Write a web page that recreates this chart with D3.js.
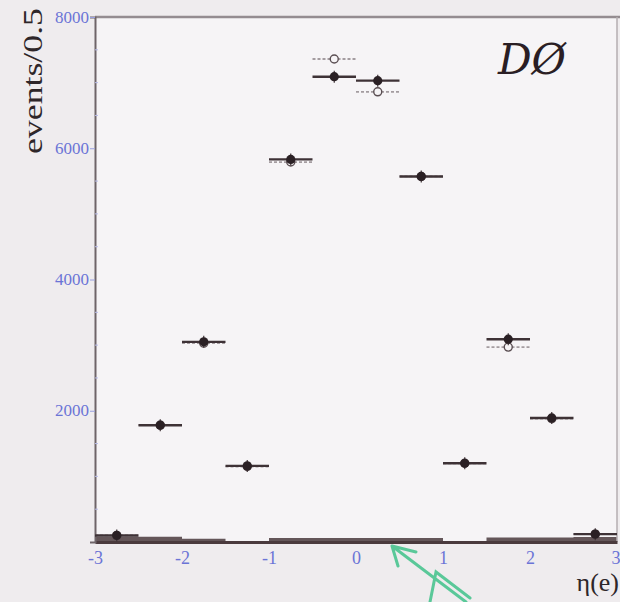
<!DOCTYPE html>
<html>
<head>
<meta charset="utf-8">
<script src="https://cdn.jsdelivr.net/npm/d3@7"></script>
<style>
  body { margin: 0; background: #efecee; }
  svg { display: block; }
</style>
</head>
<body>
<div class="canvaChart"></div>
<script>
// eta(e) bin centres, half width 0.25
var etaBins = [-2.75, -2.25, -1.75, -1.25, -0.75, -0.25, 0.25, 0.75, 1.25, 1.75, 2.25, 2.75];
var dataEvents = [100, 1780, 3050, 1160, 5830, 7090, 7030, 5570, 1200, 3090, 1890, 120];
var mcEvents = [100, 1780, 3030, 1150, 5790, 7360, 6860, 5570, 1200, 2970, 1880, 120];
var bkgEvents = [80, 80, 50, 10, 60, 60, 60, 60, 15, 70, 70, 75];
var xTicks = [-3, -2, -1, 0, 1, 2, 3];
var yTicks = [2000, 4000, 6000, 8000];

var W = 620, H = 602;
var pL = 95, pR = 617, pT = 17, pB = 542;

var svg = d3.select(".canvaChart").append("svg")
  .attr("width", W)
  .attr("height", H);

svg.append("rect").attr("width", W).attr("height", H).attr("fill", "#efecee");
svg.append("rect")
  .attr("x", pL).attr("y", pT)
  .attr("width", pR - pL).attr("height", pB - pT)
  .attr("fill", "#f6f4f6");

var x = d3.scaleLinear().domain([-3, 3]).range([pL, pR]);
var y = d3.scaleLinear().domain([0, 8000]).range([pB, pT]);

// background histogram, drawn as a step band along the bottom
var bkgArea = d3.area()
  .curve(d3.curveStepAfter)
  .x(d => x(d[0]))
  .y0(y(0))
  .y1(d => y(d[1]));
var bkgPts = etaBins.map((c, i) => [c - 0.25, bkgEvents[i]]);
bkgPts.push([3, bkgEvents[bkgEvents.length - 1]]);
svg.append("path")
  .datum(bkgPts)
  .attr("d", bkgArea)
  .attr("fill", "#4a3a3d")
  .attr("opacity", 0.85);

// frame
svg.append("line").attr("x1", pL).attr("x2", W).attr("y1", pT).attr("y2", pT)
  .attr("stroke", "#948c90").attr("stroke-width", 2.5);
svg.append("line").attr("x1", pR).attr("x2", pR).attr("y1", pT).attr("y2", pB)
  .attr("stroke", "#b4aeb1").attr("stroke-width", 1.5);

var fmt = d => String(d);

// axes
var xAxis = d3.axisBottom(x).tickValues(xTicks).tickSize(0).tickPadding(9)
  .tickFormat(fmt);
var gx = svg.append("g").attr("transform", "translate(0," + pB + ")").call(xAxis);
gx.select(".domain").attr("stroke", "#4a3a3d").attr("stroke-width", 3);
gx.selectAll("text")
  .attr("fill", "#6b74d6")
  .attr("font-family", "Liberation Serif, serif")
  .attr("font-size", 18);
// last label sits at the window edge: keep it inside
gx.selectAll(".tick").filter(d => d === 3).select("text")
  .attr("text-anchor", "end").attr("x", 3);

var yAxis = d3.axisLeft(y).tickValues(yTicks).tickSize(5).tickPadding(1)
  .tickFormat(fmt);
var gy = svg.append("g").attr("transform", "translate(" + pL + ",0)").call(yAxis);
gy.select(".domain").attr("stroke", "#6e6468").attr("stroke-width", 2);
gy.selectAll(".tick line").attr("stroke", "#9aa0e0");
gy.selectAll("text")
  .attr("fill", "#6b74d6")
  .attr("font-family", "Liberation Serif, serif")
  .attr("font-size", 16)
  .attr("textLength", 34)
  .attr("lengthAdjust", "spacingAndGlyphs");

// minor ticks
var minorY = d3.range(500, 8000, 500).filter(v => v % 2000 !== 0);
svg.selectAll(".minorY").data(minorY).enter().append("line")
  .attr("x1", pL).attr("x2", pL + 3)
  .attr("y1", d => y(d)).attr("y2", d => y(d))
  .attr("stroke", "#b8bce8");

// open points (simulation): dashed error bars, hollow markers
var mc = etaBins.map((c, i) => ({ eta: c, v: mcEvents[i] }));
svg.selectAll(".mcbar").data(mc).enter().append("line")
  .attr("x1", d => x(d.eta - 0.25)).attr("x2", d => x(d.eta + 0.25))
  .attr("y1", d => y(d.v)).attr("y2", d => y(d.v))
  .attr("stroke", "#a49ca0").attr("stroke-width", 1.8)
  .attr("stroke-dasharray", "3,2");
svg.selectAll(".mcdot").data(mc).enter().append("circle")
  .attr("cx", d => x(d.eta)).attr("cy", d => y(d.v)).attr("r", 4)
  .attr("fill", "#f6f4f6").attr("stroke", "#5a4e52").attr("stroke-width", 1.4);

// filled points (data)
var dat = etaBins.map((c, i) => ({ eta: c, v: dataEvents[i] }));
svg.selectAll(".dbar").data(dat).enter().append("line")
  .attr("x1", d => x(d.eta - 0.25)).attr("x2", d => x(d.eta + 0.25))
  .attr("y1", d => y(d.v)).attr("y2", d => y(d.v))
  .attr("stroke", "#3e3236").attr("stroke-width", 2.4);
svg.selectAll(".derr").data(dat).enter().append("line")
  .attr("x1", d => x(d.eta)).attr("x2", d => x(d.eta))
  .attr("y1", d => y(d.v) - 6).attr("y2", d => y(d.v) + 6)
  .attr("stroke", "#3e3236").attr("stroke-width", 1.2);
svg.selectAll(".ddot").data(dat).enter().append("circle")
  .attr("cx", d => x(d.eta)).attr("cy", d => y(d.v)).attr("r", 4.6)
  .attr("fill", "#2a2024");

// labels
svg.append("text")
  .attr("transform", "translate(42,8) rotate(-90)")
  .attr("text-anchor", "end")
  .attr("font-family", "Liberation Serif, serif")
  .attr("font-size", 28)
  .attr("textLength", 146)
  .attr("lengthAdjust", "spacingAndGlyphs")
  .attr("fill", "#2e2629")
  .text("events/0.5");

svg.append("text")
  .attr("x", 619).attr("y", 591)
  .attr("text-anchor", "end")
  .attr("font-family", "Liberation Serif, serif")
  .attr("font-size", 26)
  .attr("fill", "#2e2629")
  .text("η(e)");

svg.append("text")
  .attr("x", 532).attr("y", 74)
  .attr("text-anchor", "middle")
  .attr("font-family", "DejaVu Serif, serif")
  .attr("font-style", "italic")
  .attr("font-size", 42)
  .attr("fill", "#2a1e24")
  .text("DØ");

// green hand-drawn arrow
svg.append("path")
  .attr("d", "M392,546 L466,602 M392,546 L416,552 M392,546 L398,566 M430,602 L436,572 L470,598")
  .attr("fill", "none")
  .attr("stroke", "#3fc28a")
  .attr("stroke-width", 3)
  .attr("stroke-linecap", "round")
  .attr("opacity", 0.85);
</script>
</body>
</html>
